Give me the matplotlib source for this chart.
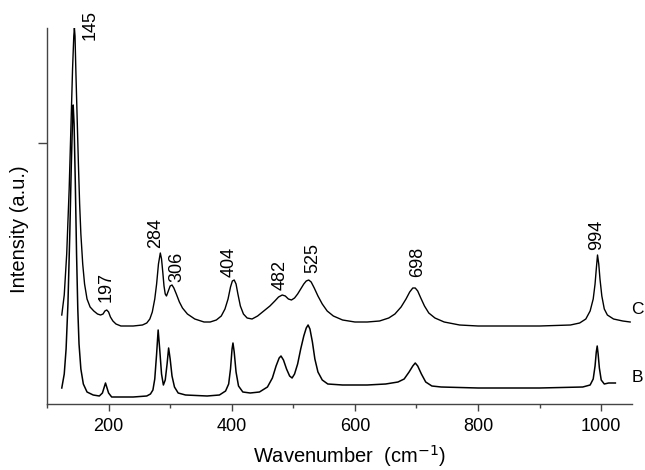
import matplotlib
matplotlib.use("Agg")
import matplotlib.pyplot as plt
from matplotlib.ticker import MultipleLocator, NullFormatter

plt.rcParams["font.family"] = ["Liberation Sans", "DejaVu Sans"]

# Raman spectra (wavenumber in cm-1, intensity in a.u.)
c_wavenumber = [124, 128, 132, 136, 139, 141.5, 143.5, 144.5, 145.5, 147, 149, 151, 153, 155,
                158, 161, 165, 170, 176, 182, 187, 191, 194, 197, 200, 203, 207, 212, 220,
                240, 255, 262, 267, 271, 275, 278, 281, 284, 286, 288, 290, 292, 294, 297,
                300, 303, 306, 310, 315, 320, 328, 340, 355, 365, 375, 383, 389, 394, 398,
                401, 404, 407, 410, 414, 419, 425, 433, 442, 452, 462, 470, 476, 482, 487,
                492, 497, 502, 507, 512, 517, 521, 525, 529, 534, 540, 547, 555, 565, 580,
                600, 620, 640, 655, 665, 675, 683, 689, 694, 698, 702, 707, 713, 720, 730,
                745, 770, 800, 900, 950, 965, 975, 982, 987, 990, 992, 994, 996, 998, 1001,
                1005, 1010, 1020, 1035, 1047]
c_intensity = [89, 109, 150, 215, 280, 335, 368, 376, 368, 330, 285, 240, 200, 170,
               140, 120, 105, 97, 93, 90, 89, 90, 93, 94, 92, 87, 83, 80, 78,
               78, 79, 81, 85, 92, 105, 120, 140, 151, 145, 132, 118, 110, 108, 113,
               118, 119, 116, 110, 102, 96, 90, 85, 82, 82, 84, 88, 95, 105, 117,
               123, 124, 120, 110, 98, 90, 86, 85, 88, 93, 98, 103, 107, 109, 108,
               105, 104, 106, 110, 115, 120, 123, 124, 122, 116, 108, 100, 93, 88, 84,
               82, 82, 83, 86, 90, 97, 105, 112, 116, 116, 113, 106, 98, 91, 86,
               82, 79, 78, 78, 79, 81, 85, 93, 105, 120, 135, 149, 140, 125, 108,
               95, 89, 85, 83, 82]

b_wavenumber = [124, 128, 131, 134, 137, 139.5, 141.5, 142.5, 144, 146, 148, 150, 152, 155,
                159, 165, 175, 185, 190, 193, 195, 197, 200, 205, 240, 262, 268, 272, 275,
                278, 280.5, 283, 286, 289, 292, 295, 297.5, 300, 303, 307, 313, 325, 360,
                380, 390, 395, 398, 400.5, 402, 404, 407, 411, 418, 430, 445, 458, 466,
                472, 477, 480, 484, 489, 494, 498, 502, 507, 512, 517, 521, 524, 527,
                531, 535, 540, 547, 556, 580, 620, 650, 670, 680, 688, 694, 698, 702,
                708, 715, 725, 740, 800, 900, 970, 982, 987, 990, 992, 993.5, 995, 997,
                1000, 1005, 1012, 1023]
b_intensity = [16, 30, 55, 100, 170, 240, 285, 299, 280, 220, 150, 95, 60, 35,
               20, 12, 9, 8, 11, 17, 21, 17, 11, 7, 7, 8, 10, 14, 25,
               50, 74, 55, 30, 19, 24, 40, 56, 45, 28, 17, 11, 9, 8,
               9, 13, 20, 35, 55, 61, 52, 32, 18, 12, 11, 12, 17, 26,
               38, 46, 48, 44, 35, 28, 26, 30, 40, 55, 68, 76, 79, 75,
               62, 45, 32, 24, 20, 19, 19, 20, 22, 25, 32, 38, 41, 38,
               30, 22, 18, 17, 16, 16, 17, 19, 25, 38, 52, 58, 50, 36,
               24, 20, 21, 21]

peak_labels = ["145", "197", "284", "306", "404", "482", "525", "698", "994"]
peak_label_x = [170, 196, 276, 311, 396, 479, 531, 702, 993]
peak_label_y = [364, 102, 156, 122, 127, 114, 131, 127, 154]

fig = plt.figure(figsize=(6.45, 4.7), dpi=100)
ax = fig.add_axes([47 / 645, 66 / 470, 585 / 645, 376 / 470])

ax.plot(c_wavenumber, c_intensity, color="black", linewidth=1.0)
ax.plot(b_wavenumber, b_intensity, color="black", linewidth=1.1)

for lab, x, y in zip(peak_labels, peak_label_x, peak_label_y):
    ax.text(x, y, lab, rotation=90, ha="center", va="bottom", fontsize=13)

ax.text(1049, 95, "C", ha="left", va="center", fontsize=12.5, clip_on=False)
ax.text(1049, 27, "B", ha="left", va="center", fontsize=12.5, clip_on=False)

ax.set_xlim(100, 1050)
ax.set_ylim(0, 376)

ax.spines["top"].set_visible(False)
ax.spines["right"].set_visible(False)
for side in ("left", "bottom"):
    ax.spines[side].set_color("#444444")
    ax.spines[side].set_linewidth(1.0)

ax.xaxis.set_major_locator(MultipleLocator(200))
ax.xaxis.set_minor_locator(MultipleLocator(100))
ax.xaxis.set_minor_formatter(NullFormatter())
ax.tick_params(axis="x", which="major", direction="out", length=5, width=1.0,
               color="#444444", labelsize=13, pad=5)
ax.tick_params(axis="x", which="minor", direction="out", length=3, width=1.0,
               color="#444444")

ax.set_yticks([261])
ax.set_yticklabels([])
ax.tick_params(axis="y", which="major", direction="out", length=6.5, width=1.0,
               color="#444444")

fig.text(350 / 645, 7 / 470, "Wavenumber  (cm$^{-1}$)", ha="center", va="baseline",
         fontsize=14.5)
fig.text(20 / 645, 0.513, "Intensity (a.u.)", rotation=90, ha="center", va="center",
         fontsize=14.5)

fig.savefig("out.png", dpi=100)
